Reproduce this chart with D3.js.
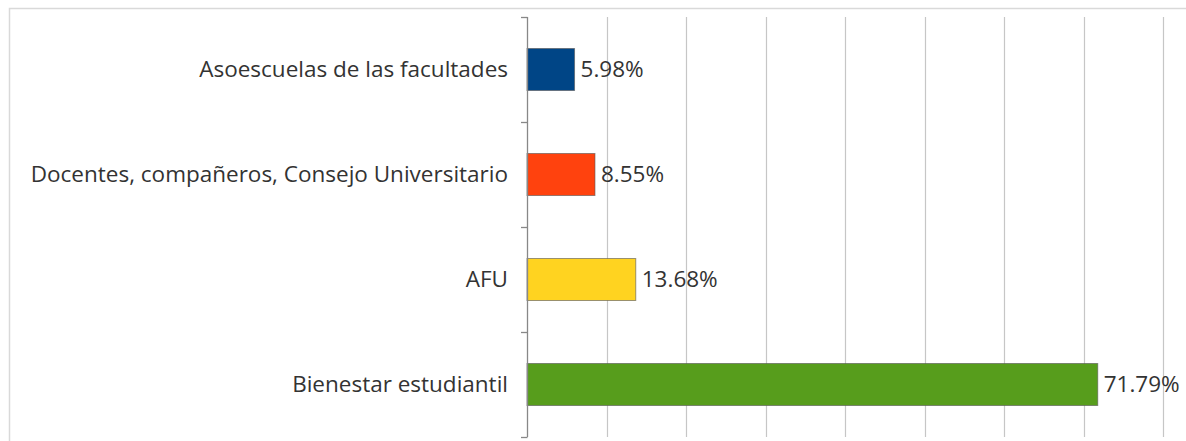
<!DOCTYPE html>
<html>
<head>
<meta charset="utf-8">
<script src="https://cdn.jsdelivr.net/npm/d3@7"></script>
<style>
html,body{margin:0;padding:0;background:#fff;}
svg{display:block;}
text{font-family:"Open Sans", Lato, sans-serif;fill:#333;}
</style>
</head>
<body>
<svg id="chart" width="1186" height="441"></svg>
<script>
const categories = ["Asoescuelas de las facultades", "Docentes, compañeros, Consejo Universitario", "AFU", "Bienestar estudiantil"];
const values = [5.98, 8.55, 13.68, 71.79];
const valueLabels = ["5.98%", "8.55%", "13.68%", "71.79%"];
const colors = ["#004586", "#ff420e", "#ffd320", "#579d1c"];
const xTicks = [0, 10, 20, 30, 40, 50, 60, 70, 80];

const svg = d3.select("#chart");
// outer frame
svg.append("rect").attr("x", 9.5).attr("y", 8.5).attr("width", 1200).attr("height", 500)
  .attr("fill", "none").attr("stroke", "#d9d9d9").attr("stroke-width", 1.5);

const x = d3.scaleLinear().domain([0, 80]).range([527, 1163]);
const y = d3.scaleBand().domain(categories).range([17, 437]).paddingInner(0.6).paddingOuter(0.3);

// gridlines
svg.append("g").selectAll("line").data(xTicks.slice(1)).join("line")
  .attr("x1", d => Math.round(x(d)) + 0.5).attr("x2", d => Math.round(x(d)) + 0.5)
  .attr("y1", 17).attr("y2", 437)
  .attr("stroke", "#c6c6c6").attr("stroke-width", 1.2);

// bars
svg.append("g").selectAll("rect").data(categories).join("rect")
  .attr("x", x(0)).attr("y", d => y(d))
  .attr("width", (d, i) => x(values[i]) - x(0))
  .attr("height", y.bandwidth())
  .attr("fill", (d, i) => colors[i])
  .attr("stroke", "#555").attr("stroke-opacity", 0.6).attr("stroke-width", 1);

// value labels
svg.append("g").selectAll("text").data(categories).join("text")
  .attr("x", (d, i) => x(values[i]) + 6)
  .attr("y", d => y(d) + y.bandwidth() / 2)
  .attr("dy", "0.35em")
  .attr("font-size", 22.5)
  .text((d, i) => valueLabels[i]);

// y axis with ticks between categories
const yAxisG = svg.append("g");
yAxisG.append("line").attr("x1", 527.5).attr("x2", 527.5).attr("y1", 17).attr("y2", 437)
  .attr("stroke", "#888").attr("stroke-width", 1.3);
const boundaries = categories.map(c => y(c) - y.step() * y.paddingInner() / 2);
boundaries.push(437);
boundaries[0] = 17;
yAxisG.selectAll("line.tick").data(boundaries).join("line").attr("class", "tick")
  .attr("x1", 521).attr("x2", 527.5)
  .attr("y1", d => Math.round(d) + 0.5).attr("y2", d => Math.round(d) + 0.5)
  .attr("stroke", "#888").attr("stroke-width", 1.3);

yAxisG.selectAll("text").data(categories).join("text")
  .attr("x", 508).attr("y", d => y(d) + y.bandwidth() / 2)
  .attr("dy", "0.35em").attr("text-anchor", "end")
  .attr("font-size", 22.5)
  .text(d => d);
</script>
</body>
</html>
